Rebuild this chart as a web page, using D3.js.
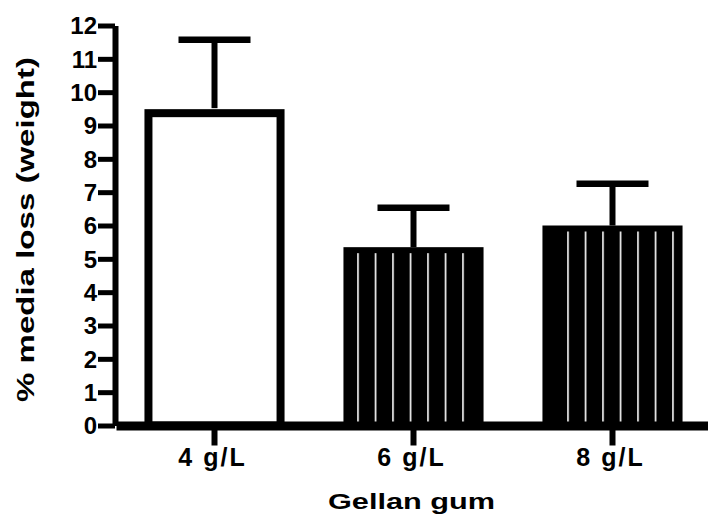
<!DOCTYPE html>
<html>
<head>
<meta charset="utf-8">
<script src="https://cdn.jsdelivr.net/npm/d3@7"></script>
<style>
  body { margin: 0; background: #fff; }
  text { font-family: "Liberation Sans", Arial, sans-serif; font-weight: bold; fill: #000; }
</style>
</head>
<body>
<div id="chart"></div>
<script>
// Data
const categories = ["4 g/L", "6 g/L", "8 g/L"];
const means = [9.52, 5.35, 6.0];
const sds = [2.05, 1.18, 1.25];
const striped = [false, true, true];
const yTicks = [0, 1, 2, 3, 4, 5, 6, 7, 8, 9, 10, 11, 12];

const width = 708;
const height = 525;

const svg = d3.select("#chart")
  .append("svg")
  .attr("width", width)
  .attr("height", height);

// Scales
const x = d3.scaleBand()
  .domain(categories)
  .range([116, 711])
  .paddingInner(0.296)
  .paddingOuter(0.143);

const y = d3.scaleLinear()
  .domain([0, 12])
  .range([425.5, 25.5]);

// vertical stripe pattern for the filled bars
const stripe = svg.append("defs").append("pattern")
  .attr("id", "stripes")
  .attr("patternUnits", "userSpaceOnUse")
  .attr("x", 7.2)
  .attr("y", 0)
  .attr("width", 17.5)
  .attr("height", 10);
stripe.append("rect").attr("width", 17.5).attr("height", 10).attr("fill", "#000");
stripe.append("rect").attr("x", 0).attr("width", 1.6).attr("height", 10).attr("fill", "#fff");

const bars = svg.append("g");

categories.forEach((c, i) => {
  const x0 = x(c);
  const bw = x.bandwidth();
  const top = y(means[i]);
  const bottom = y(0);
  if (striped[i]) {
    bars.append("rect")
      .attr("x", x0).attr("y", top)
      .attr("width", bw).attr("height", bottom - top)
      .attr("fill", "#000");
    bars.append("rect")
      .attr("x", x0 + 12).attr("y", top + 6)
      .attr("width", bw - 20).attr("height", bottom - top - 6)
      .attr("fill", "url(#stripes)");
  } else {
    // open bar with thick outline
    bars.append("rect")
      .attr("x", x0 + 4).attr("y", top + 5)
      .attr("width", bw - 8).attr("height", bottom - top - 5)
      .attr("fill", "#fff")
      .attr("stroke", "#000")
      .attr("stroke-width", 8);
  }

  // upper error bar
  const cx = x0 + bw / 2;
  const capY = y(means[i] + sds[i]);
  bars.append("line")
    .attr("x1", cx).attr("x2", cx)
    .attr("y1", capY).attr("y2", top)
    .attr("stroke", "#000").attr("stroke-width", 6);
  bars.append("line")
    .attr("x1", cx - 36).attr("x2", cx + 36)
    .attr("y1", capY).attr("y2", capY)
    .attr("stroke", "#000").attr("stroke-width", 6.5);
});

// Y axis
const yAxis = svg.append("g")
  .attr("transform", "translate(115,0)")
  .call(d3.axisLeft(y).tickValues(yTicks).tickSize(17).tickSizeOuter(0).tickPadding(1));
yAxis.select(".domain").attr("stroke", "#000").attr("stroke-width", 6);
yAxis.selectAll(".tick line").attr("stroke", "#000").attr("stroke-width", 5);
yAxis.selectAll(".tick text")
  .attr("font-size", 24)
  .attr("font-family", null)
  .attr("dy", "0.34em");

// X axis
const xAxis = svg.append("g")
  .attr("transform", `translate(0,${y(0)})`)
  .call(d3.axisBottom(x).tickSize(20).tickSizeOuter(0).tickPadding(2.5));
xAxis.select(".domain").attr("stroke", "#000").attr("stroke-width", 9);
xAxis.selectAll(".tick line").attr("stroke", "#000").attr("stroke-width", 6);
xAxis.selectAll(".tick text")
  .attr("font-size", 25)
  .attr("font-family", null)
  .attr("letter-spacing", 2)
  .attr("x", -2);

// Axis titles
svg.append("text")
  .attr("x", 411.5)
  .attr("y", 509)
  .attr("text-anchor", "middle")
  .attr("font-size", 22)
  .attr("textLength", 167)
  .attr("lengthAdjust", "spacingAndGlyphs")
  .text("Gellan gum");

svg.append("text")
  .attr("transform", "translate(34,229.5) rotate(-90)")
  .attr("text-anchor", "middle")
  .attr("font-size", 24)
  .attr("textLength", 345)
  .attr("lengthAdjust", "spacingAndGlyphs")
  .text("% media loss (weight)");
</script>
</body>
</html>
